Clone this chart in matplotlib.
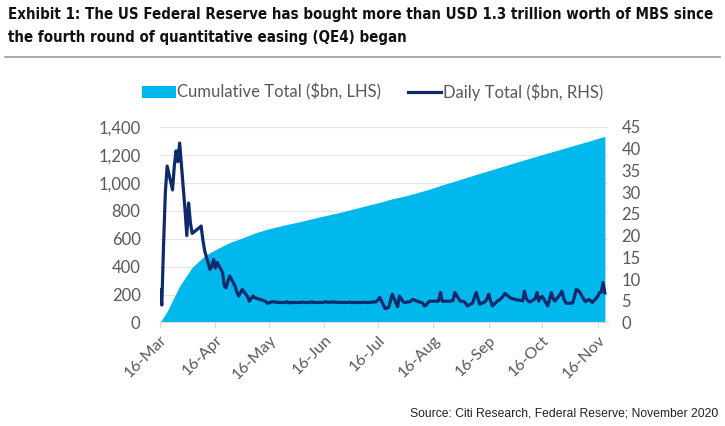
import numpy as np
import pandas as pd
import matplotlib
matplotlib.use('Agg')
import matplotlib.pyplot as plt
import matplotlib.dates as mdates
from matplotlib.patches import Patch
from matplotlib.lines import Line2D
from matplotlib import font_manager

# cumulative MBS purchases ($bn, LHS), read at weekly points
cum_dates = ['2020-03-16', '2020-03-20', '2020-03-27', '2020-04-03', '2020-04-10',
             '2020-04-17', '2020-04-24', '2020-05-01', '2020-05-08', '2020-05-15',
             '2020-05-22', '2020-05-29', '2020-06-05', '2020-06-12', '2020-06-19',
             '2020-06-26', '2020-07-03', '2020-07-10', '2020-07-17', '2020-07-24',
             '2020-07-31', '2020-08-07', '2020-08-14', '2020-08-21', '2020-08-28',
             '2020-09-04', '2020-09-11', '2020-09-18', '2020-09-25', '2020-10-02',
             '2020-10-09', '2020-10-16', '2020-10-23', '2020-10-30', '2020-11-06',
             '2020-11-13', '2020-11-20']
cum_total = [0, 80, 262, 395, 478, 528, 572, 605, 640, 668,
             690, 710, 730, 752, 772, 792, 815, 838, 860, 886,
             905, 930, 955, 985, 1012, 1040, 1068, 1095, 1122, 1150,
             1176, 1202, 1228, 1254, 1280, 1306, 1333]

# daily purchases ($bn, RHS), one value per business day, one row per week
daily_start = '2020-03-16'
daily_end = '2020-11-20'
daily_total = [
    7.5, 4.0, 18.0, 30.0, 36.0,
    30.5, 36.0, 39.5, 37.0, 41.3,
    26.0, 20.0, 27.5, 23.0, 20.5,
    21.5, 21.8, 22.2, 19.0, 16.5,
    12.2, 13.0, 14.5, 12.5, 13.8,
    11.5, 8.4, 8.0, 9.5, 10.7,
    8.4, 7.0, 6.1, 6.8, 7.6,
    6.0, 4.9, 5.5, 6.1, 5.7,
    5.3, 5.2, 5.0, 4.9, 4.4,
    4.8, 4.7, 4.7, 4.6, 4.6,
    4.6, 4.8, 4.5, 4.6, 4.6,
    4.6, 4.6, 4.6, 4.7, 4.6,
    4.6, 4.8, 4.6, 4.6, 4.6,
    4.6, 4.7, 4.8, 4.6, 4.7,
    4.7, 4.6, 4.7, 4.6, 4.6,
    4.6, 4.7, 4.6, 4.6, 4.6,
    4.6, 4.6, 4.7, 4.6, 4.6,
    4.7, 4.7, 4.8, 5.2, 5.8,
    3.2, 3.3, 3.5, 5.0, 6.5,
    3.6, 6.1, 5.5, 4.8, 4.6,
    4.8, 5.2, 5.3, 5.0, 4.9,
    4.5, 3.8, 4.0, 4.6, 4.9,
    4.9, 4.9, 5.0, 6.9, 4.9,
    4.9, 4.9, 5.0, 5.0, 6.9,
    4.9, 4.9, 4.8, 4.5, 3.8,
    4.5, 5.8, 6.9, 5.5, 4.2,
    4.8, 5.5, 6.5, 5.0, 3.8,
    5.0, 5.2, 5.6, 6.0, 6.7,
    5.7, 5.5, 5.4, 5.3, 5.2,
    5.0, 7.2, 5.5, 5.0, 4.7,
    5.5, 6.9, 4.9, 5.8, 6.0,
    3.8, 5.2, 6.9, 5.6, 4.9,
    6.5, 7.2, 5.5, 4.6, 4.4,
    4.5, 6.0, 7.6, 7.4, 6.9,
    4.8, 5.0, 5.3, 5.0, 4.6,
    6.0, 6.9, 7.0, 9.2, 6.8,
]

left_ticks = [0, 200, 400, 600, 800, 1000, 1200, 1400]
right_ticks = [0, 5, 10, 15, 20, 25, 30, 35, 40, 45]
tick_dates = ['2020-03-16', '2020-04-16', '2020-05-16', '2020-06-16', '2020-07-16',
              '2020-08-16', '2020-09-16', '2020-10-16', '2020-11-16']

title_lines = ['Exhibit 1: The US Federal Reserve has bought more than USD 1.3 trillion worth of MBS since',
               'the fourth round of quantitative easing (QE4) began']
source = 'Source: Citi Research, Federal Reserve; November 2020'

area_color = '#00b8ec'
line_color = '#0e2a6c'
text_gray = '#595959'

plt.rcParams['font.family'] = ['Lato', 'DejaVu Sans']

# narrow bold face for the title
title_font = font_manager.FontProperties(family='DejaVu Sans', weight='bold',
                                         stretch='condensed', size=10.85)

fig = plt.figure(figsize=(7.25, 4.26), dpi=100)
ax = fig.add_axes([0.2207, 0.243, 0.6173, 0.459])
ax2 = ax.twinx()

cx = pd.to_datetime(cum_dates)
dx = pd.bdate_range(daily_start, daily_end)

ax.fill_between(cx, 0, cum_total, color=area_color, linewidth=0, zorder=2)
ax2.plot(dx, daily_total, color=line_color, linewidth=2.3, solid_joinstyle='round', zorder=3)

ax.set_ylim(0, 1400)
ax2.set_ylim(0, 45)
ax.set_yticks(left_ticks)
ax.set_yticklabels([f'{v:,}' for v in left_ticks])
ax2.set_yticks(right_ticks)
ax.set_xlim(pd.Timestamp('2020-03-16'), pd.Timestamp('2020-11-21 12:00'))
ax.set_xticks(pd.to_datetime(tick_dates))
ax.xaxis.set_major_formatter(mdates.DateFormatter('%d-%b'))

ax.grid(axis='y', color='#e3e3e3', linewidth=0.8, zorder=0)
ax.set_axisbelow(True)
for a in (ax, ax2):
    for s in a.spines.values():
        s.set_visible(False)
    a.tick_params(axis='y', length=0, labelsize=12, colors=text_gray)
ax.tick_params(axis='y', pad=14)
ax2.tick_params(axis='y', pad=10)
ax.spines['bottom'].set_visible(True)
ax.spines['bottom'].set_color('#d9d9d9')
ax.tick_params(axis='x', length=4, color='#d9d9d9', labelsize=11.5, colors=text_gray)
for lab in ax.get_xticklabels():
    lab.set_rotation(45)
    lab.set_ha('right')
    lab.set_rotation_mode('anchor')
    lab.set_color(text_gray)

# legend above the plot
handles = [Patch(facecolor=area_color, edgecolor='none'),
           Line2D([0], [0], color=line_color, linewidth=2.3)]
fig.legend(handles, ['Cumulative Total ($bn, LHS)', 'Daily Total ($bn, RHS)'],
           loc='center', bbox_to_anchor=(0.514, 0.784), ncol=2, frameon=False,
           fontsize=12, labelcolor=text_gray, handlelength=2.0, handletextpad=0.1,
           columnspacing=1.6)

fig.text(0.011, 0.965, title_lines[0], ha='left', va='center', fontproperties=title_font,
         color='#111111')
fig.text(0.011, 0.911, title_lines[1], ha='left', va='center', fontproperties=title_font,
         color='#111111')
fig.add_artist(Line2D([0.007, 0.993], [0.867, 0.867], color='#9a9a9a', linewidth=1.2))
fig.text(0.99, 0.03, source, ha='right', va='center', fontsize=8.7,
         family=['Liberation Sans', 'DejaVu Sans'], color='#222222')

fig.savefig('out.png', dpi=100)
